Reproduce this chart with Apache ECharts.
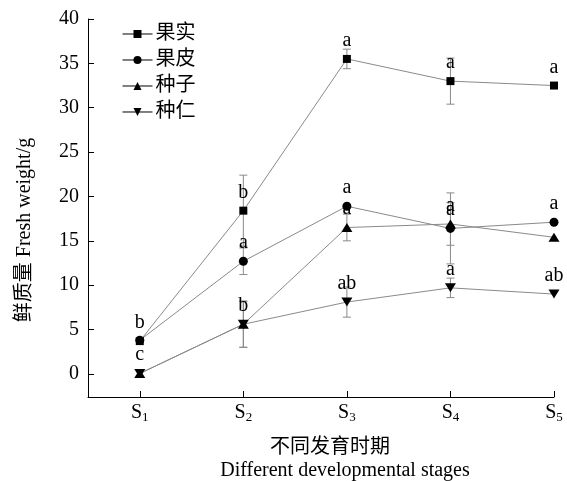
<!DOCTYPE html>
<html>
<head>
<meta charset="utf-8">
<script src="https://cdn.jsdelivr.net/npm/echarts@6/dist/echarts.min.js"></script>
<style>
  html, body { margin: 0; padding: 0; background: #fff; }
  #chart { width: 567px; height: 481px; }
</style>
</head>
<body>
<div id="chart"></div>
<script>
// Developmental stages (x positions 1..5)
const stages = ['1', '2', '3', '4', '5'];
const yTicks = [0, 5, 10, 15, 20, 25, 30, 35, 40];

// Fresh weight (g) per stage, with error half-widths and significance letters
const fruit = [3.7, 18.4, 35.5, 33.0, 32.5];
const fruitErr = [0, 4.0, 1.1, 2.6, 0];
const fruitSig = ['b', 'b', 'a', 'a', 'a'];

const peel = [3.8, 12.7, 18.9, 16.4, 17.1];
const peelErr = [0, 1.5, 0, 4.0, 0];
const peelSig = ['', 'a', 'a', 'a', 'a'];

const seed = [0.05, 5.6, 16.5, 16.9, 15.4];
const seedErr = [0, 2.6, 1.5, 2.4, 0];
const seedSig = ['c', 'b', 'a', 'a', ''];

const kernel = [0.05, 5.6, 8.1, 9.7, 9.0];
const kernelErr = [0, 2.6, 1.7, 1.1, 0];
const kernelSig = ['', '', 'ab', 'a', 'ab'];

const serif = "'Liberation Serif', 'Times New Roman', 'Noto Sans CJK SC', serif";
const lineGray = '#8a8a8a';

const groups = [
  { name: '果实', values: fruit, err: fruitErr, sig: fruitSig, symbol: 'rect', size: 8, rotate: 0 },
  { name: '果皮', values: peel, err: peelErr, sig: peelSig, symbol: 'circle', size: 9, rotate: 0 },
  { name: '种子', values: seed, err: seedErr, sig: seedSig, symbol: 'triangle', size: [11, 9], rotate: 0 },
  { name: '种仁', values: kernel, err: kernelErr, sig: kernelSig, symbol: 'triangle', size: [11, 9], rotate: 180 }
];

const series = [];

// Error bars first so lines and markers sit on top
groups.forEach(g => {
  const errData = g.values.map((v, i) => [i + 1, v, g.err[i]]).filter(d => d[2] > 0);
  series.push({
    type: 'custom',
    name: g.name + '-err',
    z: 1,
    silent: true,
    renderItem: function (params, api) {
      const x = api.value(0), y = api.value(1), e = api.value(2);
      const top = api.coord([x, y + e]);
      const bot = api.coord([x, y - e]);
      const cw = 4;
      const st = { stroke: lineGray, lineWidth: 1 };
      return {
        type: 'group',
        children: [
          { type: 'line', shape: { x1: top[0], y1: top[1], x2: bot[0], y2: bot[1] }, style: st },
          { type: 'line', shape: { x1: top[0] - cw, y1: top[1], x2: top[0] + cw, y2: top[1] }, style: st },
          { type: 'line', shape: { x1: bot[0] - cw, y1: bot[1], x2: bot[0] + cw, y2: bot[1] }, style: st }
        ]
      };
    },
    encode: { x: 0, y: 1 },
    data: errData
  });
});

groups.forEach(g => {
  series.push({
    type: 'line',
    name: g.name,
    z: 3,
    symbol: g.symbol,
    symbolSize: g.size,
    symbolRotate: g.rotate,
    showAllSymbol: true,
    lineStyle: { color: lineGray, width: 1 },
    itemStyle: { color: '#000' },
    label: {
      show: true,
      position: 'top',
      distance: 4,
      color: '#000',
      fontFamily: serif,
      fontSize: 20,
      formatter: p => g.sig[p.dataIndex]
    },
    emphasis: { disabled: true },
    animation: false,
    data: g.values.map((v, i) => [i + 1, v])
  });
});

const chart = echarts.init(document.getElementById('chart'));
chart.setOption({
  animation: false,
  backgroundColor: '#fff',
  grid: { left: 88, top: 19, right: 13, bottom: 84, containLabel: false },
  legend: {
    data: groups.map(g => g.name),
    orient: 'vertical',
    left: 117,
    top: 19,
    itemWidth: 30,
    itemHeight: 10,
    itemGap: 6,
    lineStyle: { color: '#000', width: 1 },
    textStyle: { fontFamily: serif, fontSize: 20, color: '#000', padding: [0, 0, 0, -2] }
  },
  xAxis: {
    type: 'value',
    min: 0.5,
    max: 5,
    splitLine: { show: false },
    axisLine: { onZero: false, lineStyle: { color: '#000', width: 1 } },
    axisTick: { inside: true, length: 6, lineStyle: { color: '#000' }, customValues: [1, 2, 3, 4, 5] },
    axisLabel: {
      customValues: [1, 2, 3, 4, 5],
      margin: 6,
      color: '#000',
      formatter: v => '{s|S}{sub|' + stages[Math.round(v) - 1] + '}',
      rich: {
        s: { fontFamily: serif, fontSize: 20, color: '#000', verticalAlign: 'bottom' },
        sub: { fontFamily: serif, fontSize: 13, color: '#000', verticalAlign: 'bottom', padding: [0, 0, -1, 0] }
      }
    }
  },
  yAxis: {
    type: 'value',
    min: -2.6,
    max: 40,
    splitLine: { show: false },
    axisLine: { show: true, onZero: false, lineStyle: { color: '#000', width: 1 } },
    axisTick: { show: true, inside: true, length: 6, lineStyle: { color: '#000' }, customValues: yTicks },
    axisLabel: {
      customValues: yTicks,
      margin: 9,
      color: '#000',
      fontFamily: serif,
      fontSize: 20
    }
  },
  graphic: [
    {
      type: 'text',
      x: 25, y: 230,
      rotation: Math.PI / 2,
      style: {
        text: '鲜质量 Fresh weight/g',
        fontFamily: serif, fontSize: 20, fill: '#000',
        textAlign: 'center', textVerticalAlign: 'middle'
      }
    },
    {
      type: 'text',
      x: 330, y: 448,
      style: {
        text: '不同发育时期',
        fontFamily: serif, fontSize: 20, fill: '#000',
        textAlign: 'center', textVerticalAlign: 'middle'
      }
    },
    {
      type: 'text',
      x: 345, y: 471,
      style: {
        text: 'Different developmental stages',
        fontFamily: serif, fontSize: 20, fill: '#000',
        textAlign: 'center', textVerticalAlign: 'middle'
      }
    }
  ],
  series: series
});
</script>
</body>
</html>
